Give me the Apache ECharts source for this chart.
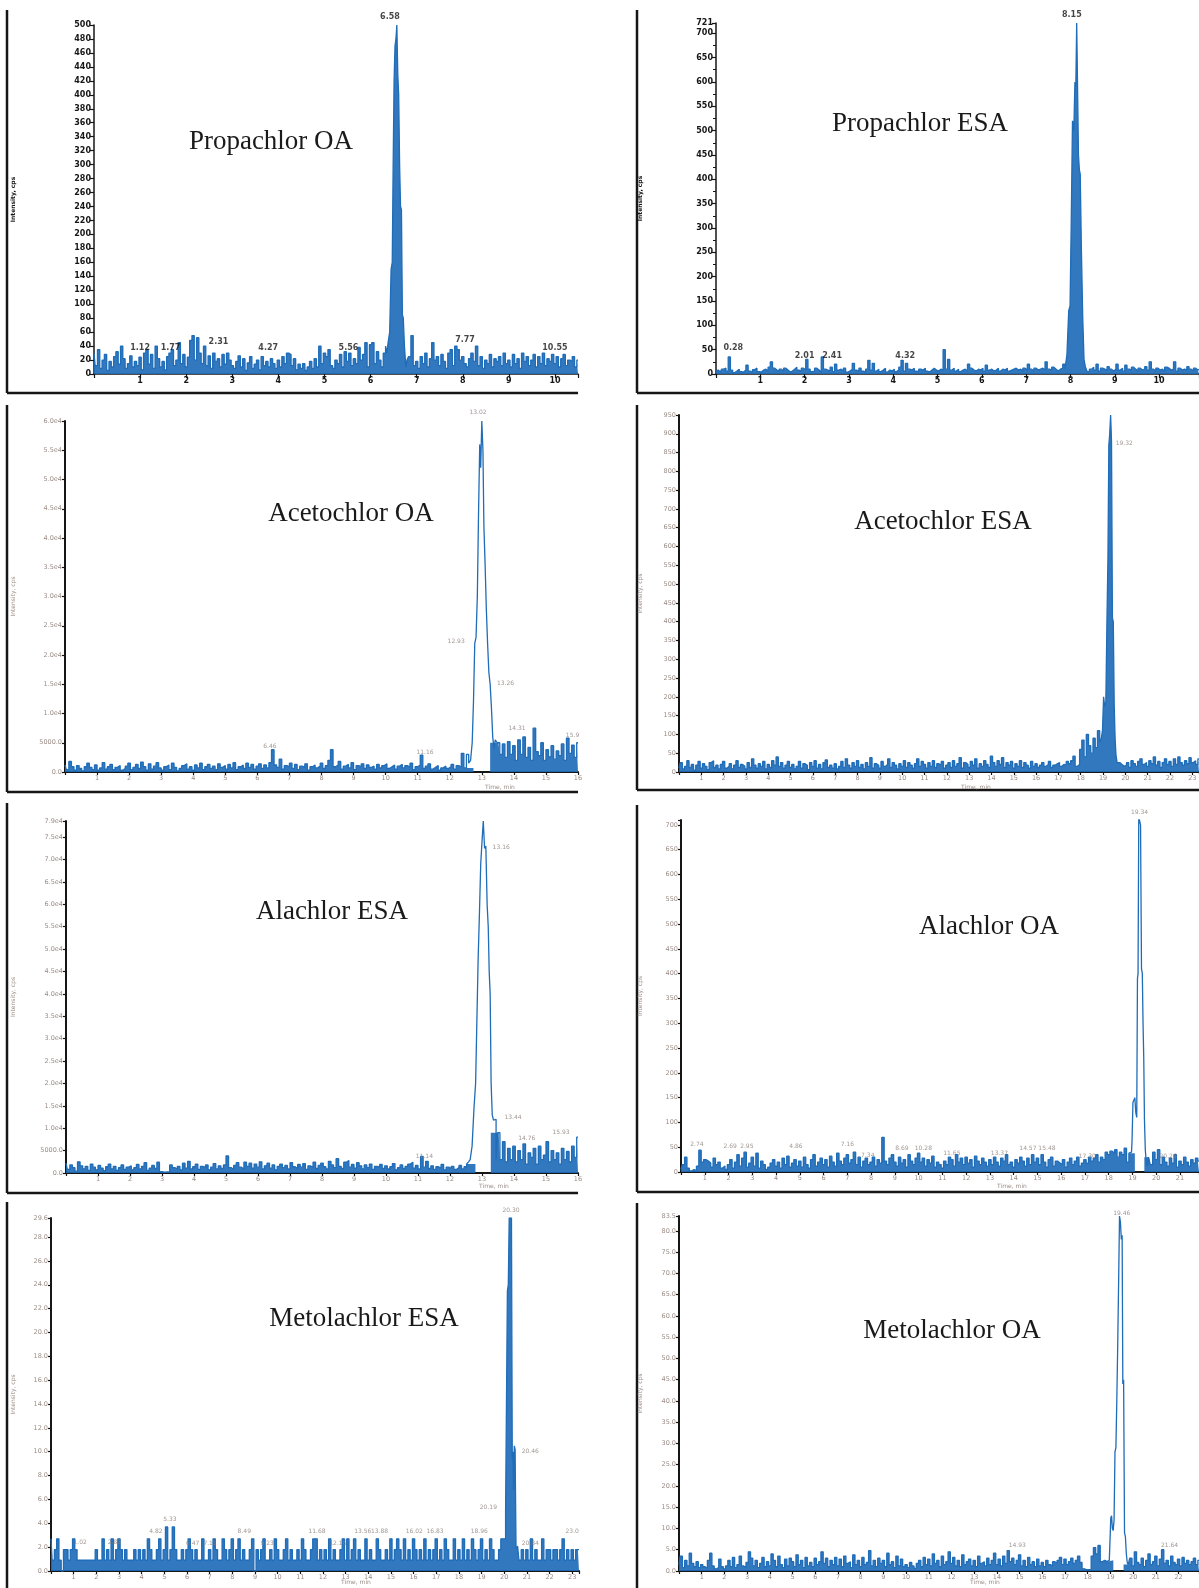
<!DOCTYPE html>
<html lang="en">
<head>
<meta charset="utf-8">
<title>Chromatograms</title>
<script src="https://cdn.jsdelivr.net/npm/echarts@6.0.0/dist/echarts.min.js"></script>
<style>
  html, body { margin: 0; padding: 0; background: #fff; }
  #chart { width: 1199px; height: 1588px; }
</style>
</head>
<body>
<div id="chart"></div>
<script>

// Propachlor OA : bruit échantillonné toutes les 0.05 min
const propOANoise = [
  30,12,35,8,20,28,5,18,10,25,32,14,40,22,8,15,26,10,18,12,
  24,6,30,35,14,28,8,40,22,10,18,6,25,30,35,12,20,45,15,28,
  10,24,48,55,20,52,30,15,40,12,26,8,30,18,22,10,28,14,30,20,
  12,8,18,26,10,22,5,16,25,8,14,20,6,25,12,18,10,22,15,8,
  20,10,25,15,30,28,12,22,6,14,8,15,5,10,18,8,22,10,40,15,
  30,25,35,12,8,20,15,28,10,32,18,30,12,22,15,38,20,28,45,10,
  42,45,15,32,20,10,30,40,45,60,150,470,500,300,85,40,10,25,55,12,
  18,8,25,15,30,10,22,45,20,25,12,28,18,8,30,35,12,40,35,20,
  25,15,10,22,30,18,40,12,25,8,20,15,28,10,22,18,25,12,30,15,
  20,10,28,15,22,8,30,18,25,12,20,28,10,25,15,30,12,22,18,28,
  15,25,10,22,28,12,20,18,25,10,20
];
const propOAPeak = [
  [6.36,30],[6.40,45],[6.43,60],[6.46,150],[6.48,160],[6.50,300],[6.52,420],
  [6.54,470],[6.56,480],[6.58,500],[6.60,430],[6.62,400],[6.64,300],[6.66,240],
  [6.68,235],[6.70,85],[6.72,80],[6.75,40],[6.78,10],[6.80,20]
];
const propOANotes = [
  [1.0,37,'1.12'],[1.66,37,'1.77'],[2.7,46,'2.31'],[3.78,37,'4.27'],
  [5.52,37,'5.56'],[8.05,49,'7.77'],[10.0,37,'10.55'],[6.42,511,'6.58']
];
const propOAYLabels = ['0','20','40','60','80','100','120','140','160','180','200','220','240',
  '260','280','300','320','340','360','380','400','420','440','460','480','500'];

// Propachlor ESA : pas de 0.05 min
const propESANoise = [
  5,8,4,10,12,6,35,8,3,6,10,5,4,8,18,6,3,9,12,5,
  4,8,10,6,14,25,12,8,5,10,6,12,8,4,6,10,14,8,5,12,
  8,30,10,5,6,12,8,4,35,10,8,6,14,5,20,8,10,6,12,4,
  6,10,22,8,5,12,6,4,10,28,8,22,6,10,5,8,12,4,8,6,
  10,5,8,14,28,6,22,10,8,12,6,5,10,8,12,6,4,8,12,8,
  6,10,8,50,10,30,8,12,6,10,5,8,10,6,20,12,8,6,10,8,
  12,6,18,8,10,6,8,12,6,10,8,12,6,8,10,12,8,10,6,12,
  8,20,10,6,12,8,10,12,8,25,10,8,14,10,6,10,12,20,40,130,
  140,520,600,721,450,410,120,15,5,10,14,8,20,6,12,10,8,15,10,6,
  10,20,8,12,6,18,10,8,14,10,6,12,8,10,15,8,25,10,6,12,
  8,10,6,14,12,8,10,25,6,12,8,10,8,15,10,6,12,8,10
];
const propESAPeak = [
  [7.90,10],[7.94,40],[7.98,130],[8.00,140],[8.03,300],[8.06,520],[8.09,500],
  [8.11,600],[8.13,590],[8.15,721],[8.17,720],[8.19,450],[8.21,420],[8.23,410],
  [8.26,260],[8.29,120],[8.32,30],[8.35,15]
];
const propESANotes = [[0.39,54,'0.28'],[2.0,37,'2.01'],[2.62,37,'2.41'],[4.27,37,'4.32'],[8.03,737,'8.15']];
const propESAYLabels = ['0','50','100','150','200','250','300','350','400','450','500','550','600','650','700','721'];

// Acetochlor OA : pas de 0.08 min
const acetOANoise = [
  1200,400,1800,900,300,1100,600,200,900,1500,800,400,1200,300,700,1600,500,900,1300,400,800,1100,300,600,1000,
  1500,400,800,1300,600,1700,900,300,1400,500,1000,1600,700,300,900,1200,400,1500,800,200,600,1100,1400,500,900,
  300,1200,700,1500,400,900,1300,600,1000,400,1400,800,1100,500,1300,700,1600,400,900,1200,600,1500,800,1300,500,
  1000,1400,600,1200,700,1600,3800,1200,800,2200,500,1100,900,1500,600,1300,400,1000,800,1400,300,900,1200,700,1000,
  1500,600,1100,2000,3800,900,1200,1800,500,1000,1300,700,1600,400,1100,900,1400,600,1200,800,1000,500,1300,700,1100,
  1400,600,900,1200,500,1000,1300,700,1100,800,1500,400,900,1200,2900,600,1000,1400,500,800,1100,300,700,1000,600,
  900,1300,500,1100,800,3200,700,3000,2000,8000,20000,26000,55000,60000,35000,20000,9000,14500,6000,5000,3000,4800,2500,5200,3000,
  4500,2000,5500,3000,6000,2500,4200,2000,7500,3500,2800,5000,2000,3800,2600,4500,2200,3600,2800,4800,2000,5800,3200,4600,2500,
  5000
];
const acetOAPeak = [
  [12.56,3000],[12.62,1500],[12.68,2000],[12.72,5000],[12.76,12000],[12.80,22000],[12.84,23000],
  [12.88,30000],[12.92,45000],[12.95,56000],[12.98,52000],[13.02,60000],[13.05,55000],[13.08,42000],
  [13.12,36000],[13.16,28000],[13.20,22000],[13.24,17000],[13.28,15000],[13.32,11000],[13.36,6000],
  [13.40,4000],[13.44,5500]
];
const acetOANotes = [
  [12.88,61500,'13.02'],[12.2,22400,'12.93'],[13.74,15200,'13.26'],[14.1,7500,'14.31'],
  [15.83,6300,'15.9'],[6.39,4400,'6.46'],[11.23,3400,'11.16']
];
const acetOAYLabels = ['0.0','5000.0','1.0e4','1.5e4','2.0e4','2.5e4','3.0e4','3.5e4','4.0e4','4.5e4','5.0e4','5.5e4','6.0e4'];

// Acetochlor ESA : pas de 0.1 min
const acetESANoise = [
  10,25,8,15,30,12,20,5,18,28, 10,22,15,6,25,30,12,18,8,20,
  28,10,15,22,8,18,30,12,20,15, 8,25,12,35,18,10,22,15,28,8,
  20,12,30,18,40,15,25,10,18,28, 12,20,8,15,28,10,22,18,6,25,
  15,30,10,20,8,25,32,12,18,10, 22,8,15,28,12,35,18,10,25,15,
  30,12,20,8,25,15,38,10,22,18, 10,28,15,20,35,12,25,18,8,22,
  15,30,12,25,18,10,22,35,15,28, 20,10,25,15,30,12,22,18,28,10,
  18,25,12,30,15,22,38,10,25,20, 12,28,18,35,10,22,15,30,20,12,
  42,25,15,30,20,38,12,25,18,28, 10,22,15,30,12,25,18,10,28,15,
  22,12,18,25,15,20,28,12,18,22, 25,15,20,18,28,22,30,42,15,20,
  60,85,40,100,70,50,90,65,110,80, 110,200,400,870,950,410,90,25,20,15,
  18,25,12,30,22,15,28,35,20,25, 15,30,22,40,18,28,12,25,35,20,
  28,15,35,20,40,25,18,30,22,38, 25,30,20,35
];
const acetESAPeak = [
  [18.95,90],[19.00,110],[19.05,200],[19.10,175],[19.15,185],[19.20,400],[19.24,570],
  [19.28,870],[19.32,900],[19.36,950],[19.40,880],[19.44,410],[19.48,400],[19.52,180],
  [19.56,90],[19.60,45],[19.66,25]
];
const acetESANotes = [[19.95,875,'19.32']];
const acetESAYLabels = ['0','50','100','150','200','250','300','350','400','450','500','550','600',
  '650','700','750','800','850','900','950'];

// Alachlor ESA : pas de 0.08 min
const alaESANoise = [
  2200,800,1800,1200,400,2500,1600,900,1500,600,2000,1300,700,1700,1100,500,1400,2000,900,1500,600,1200,1800,800,1300,
  1600,700,1200,1900,900,1500,2300,600,1100,1700,1000,2400,300,200,250,300,1800,1200,900,1500,700,2200,1100,2600,900,
  1400,2000,800,1500,1200,1800,700,1300,2100,900,1600,1000,1800,3800,1200,800,1700,2300,1300,900,2400,1500,2200,1100,2000,
  1300,2500,900,1600,2200,1100,1800,700,1500,2000,1200,1700,900,2300,1400,1000,1900,1300,2100,800,1600,1200,2400,1000,1700,
  2200,1400,900,2600,1800,1200,3200,1500,1000,2400,2800,1300,1900,1100,2300,1600,900,1800,1200,2000,800,1500,1300,1900,1000,
  1600,900,1400,2100,700,1200,1800,1000,1500,2000,2400,1100,1700,900,3700,1300,2600,1000,1600,800,1400,1100,1900,700,1300,
  1000,1500,800,1200,1700,900,1400,2000,3000,15000,34000,68000,78000,60000,40000,20000,11000,12000,4000,9000,3000,7000,2500,5500,3000,
  6000,2500,5000,3000,6500,2000,4500,3500,5500,2000,6000,3000,4000,7000,2500,5000,3000,4500,2000,5500,3000,4800,2500,6000,3500,
  8000
];
const alaESAPeak = [
  [12.60,2500],[12.66,3000],[12.72,6000],[12.78,14500],[12.82,20000],[12.86,34000],[12.90,48000],
  [12.94,58000],[12.98,69000],[13.02,74000],[13.06,78600],[13.10,72500],[13.14,73000],[13.18,60000],
  [13.21,55000],[13.24,45000],[13.27,40000],[13.30,20000],[13.34,13000],[13.38,11800],[13.42,12000],
  [13.46,3000]
];
const alaESANotes = [[13.6,72800,'13.16'],[13.97,12500,'13.44'],[14.4,7800,'14.76'],[15.47,9000,'15.93'],[11.2,3600,'11.14']];
const alaESAYLabels = ['0.0','5000.0','1.0e4','1.5e4','2.0e4','2.5e4','3.0e4','3.5e4','4.0e4','4.5e4','5.0e4',
  '5.5e4','6.0e4','6.5e4','7.0e4','7.5e4','7.9e4'];

// Alachlor OA : pas de 0.1 min
const alaOANoise = [
  5,15,30,8,2,5,3,12,44,20, 25,22,18,10,28,15,20,8,12,5,
  15,25,8,20,35,12,28,40,10,18, 30,12,38,8,22,15,5,10,18,25,
  12,20,8,28,15,32,10,18,25,12, 22,10,30,15,8,25,35,12,20,28,
  15,25,10,32,20,12,38,22,15,28, 35,18,25,40,15,30,10,22,28,15,
  20,30,12,25,18,70,22,15,28,35, 20,12,30,18,25,10,35,22,15,28,
  38,20,28,12,25,18,32,10,20,15, 8,22,15,30,25,12,35,20,28,15,
  30,18,25,10,32,22,15,28,20,12, 25,15,30,20,12,28,22,35,15,20,
  10,25,18,30,22,12,28,15,35,20, 28,15,35,20,10,25,30,12,22,18,
  15,25,10,20,28,15,22,30,12,18, 25,18,30,22,28,35,20,30,25,40,
  35,42,38,45,30,40,35,48,20,38, 60,140,150,390,716,410,105,30,15,40,
  25,45,15,30,20,12,28,18,35,10, 22,15,30,20,12,25,18,28,22
];
const alaOAPeak = [
  [18.96,40],[19.00,60],[19.04,140],[19.08,145],[19.12,150],[19.16,120],[19.20,110],
  [19.22,390],[19.25,400],[19.28,716],[19.32,716],[19.36,700],[19.40,410],[19.43,400],
  [19.46,300],[19.49,230],[19.52,105],[19.56,45],[19.60,20],[19.64,12]
];
const alaOANotes = [
  [19.3,725,'19.34'],[0.67,56,'2.74'],[2.07,52,'2.69'],[2.77,52,'2.95'],[4.84,52,'4.86'],
  [7.0,56,'7.16'],[7.86,34,'7.34'],[9.3,47,'8.69'],[10.2,47,'10.28'],[11.4,37,'11.65'],
  [13.4,37,'13.37'],[14.6,47,'14.57'],[15.4,47,'15.48'],[17.1,32,'17.30'],[20.5,32,'20.26']
];
const alaOAYLabels = ['0','50','100','150','200','250','300','350','400','450','500','550','600','650','700'];

// Metolachlor ESA : pas de 0.1 min
const metESANoise = [
  2.7,0.9,1.8,2.7,0.9,0,1.8,1.8,0.9,1.8, 2.7,1.8,0.9,0.9,0.9,0.9,0.9,0.9,0.9,0.9,
  1.8,0.9,0.9,2.7,0.9,1.8,0.9,2.7,0.9,1.8, 2.7,1.8,0.9,1.8,0.9,0.9,0.9,1.8,0.9,1.8,
  0.9,1.8,0.9,2.7,1.8,0.9,0.9,1.8,2.7,0.9, 1.8,3.7,0.9,1.8,3.7,1.8,0.9,0.9,1.8,0.9,
  1.8,2.7,1.8,0.9,1.8,0.9,0.9,2.7,0.9,0.9, 1.8,0.9,2.7,1.8,0.9,0.9,2.7,1.8,0.9,1.8,
  2.7,0.9,1.8,2.7,0.9,1.8,0.9,0.9,1.8,2.7, 0,1.8,0.9,1.8,2.7,0.9,0.9,1.8,0.9,2.7,
  1.8,0.9,0.9,1.8,2.7,0.9,1.8,0.9,0.9,1.8, 0.9,2.7,1.8,0.9,0.9,1.8,2.7,2.7,0.9,1.8,
  0.9,1.8,0.9,2.7,0.9,1.8,0.9,0.9,1.8,2.7, 0.9,2.7,0.9,1.8,2.7,0.9,1.8,0.9,0.9,2.7,
  0.9,1.8,0.9,0.9,2.7,1.8,0.9,0.9,1.8,0.9, 2.7,0.9,1.8,2.7,1.8,0.9,2.7,0.9,1.8,0.9,
  2.7,1.8,0.9,1.8,0.9,2.7,0.9,1.8,0.9,1.8, 2.7,0.9,1.8,0.9,2.7,1.8,0.9,0.9,2.7,0.9,
  1.8,0.9,2.7,0.9,1.8,0.9,2.7,1.8,0.9,1.8, 2.7,0.9,1.8,0.9,2.7,1.8,0.9,0.9,1.8,2.7,
  2.8,5.3,23.5,29.6,10,9,2.1,0.9,1.8,0.9, 1.8,0.9,2.7,0.9,1.8,0.9,0.9,2.7,0.9,1.8,
  1.8,0.9,1.8,1.8,0.9,1.8,2.7,0.9,1.8,0.9, 1.8,0.9,1.8,1.8
];
const metESAPeak = [
  [20.04,2.7],[20.08,5.0],[20.12,5.0],[20.16,23.5],[20.20,24],[20.24,29.6],[20.30,29.6],
  [20.34,29.6],[20.37,9.5],[20.40,10],[20.43,6.8],[20.46,10.5],[20.50,10.2],[20.54,2.0],[20.58,1.8]
];
const metESANotes = [
  [1.29,2.4,'1.02'],[2.8,2.4,'2.83'],[4.63,3.3,'4.82'],[5.25,4.3,'5.33'],[6.25,2.3,'6.47'],
  [7.02,2.3,'7.11'],[8.53,3.3,'8.49'],[9.54,2.3,'9.23'],[11.74,3.3,'11.68'],[12.66,2.3,'12.16'],
  [13.76,3.3,'13.56'],[14.5,3.3,'13.88'],[16.03,3.3,'16.02'],[16.95,3.3,'16.83'],[18.9,3.3,'18.96'],
  [19.3,5.3,'20.19'],[20.3,30.2,'20.30'],[21.15,10.0,'20.46'],[21.15,2.3,'20.84'],[23.0,3.3,'23.0']
];
const metESAYLabels = ['0.0','2.0','4.0','6.0','8.0','10.0','12.0','14.0','16.0','18.0','20.0',
  '22.0','24.0','26.0','28.0','29.6'];

// Metolachlor OA : pas de 0.1 min
const metOANoise = [
  1.5,3.5,0.8,2.5,1.2,4.2,1.8,1.0,2.2,0.8, 1.5,1.0,0.6,2.5,4.2,1.2,0.5,0.8,2.8,1.0,
  0.5,1.2,2.5,1.0,3.2,0.8,1.5,3.5,1.2,0.8, 2.0,4.5,3.0,1.2,2.5,0.8,1.8,3.2,1.0,2.2,
  1.2,4.0,2.5,1.0,3.5,1.5,0.8,2.8,1.2,3.0, 2.2,1.0,3.8,1.5,2.5,0.8,3.2,1.2,2.0,1.0,
  3.0,1.5,2.2,4.5,1.8,3.0,1.0,2.5,1.5,3.2, 1.2,2.8,1.0,3.5,1.8,2.2,0.8,3.8,1.5,2.5,
  1.0,3.2,1.5,2.0,4.8,1.2,2.5,1.0,3.0,1.8, 2.5,1.0,4.2,1.5,2.2,0.8,3.5,1.2,2.8,1.0,
  1.5,0.8,2.0,1.2,0.6,1.8,2.5,1.0,3.2,1.5, 2.8,1.2,4.0,1.8,2.5,1.0,3.5,1.5,2.2,4.5,
  1.8,3.2,1.2,2.5,1.0,3.8,1.5,2.2,2.8,1.2, 2.5,1.0,3.5,1.8,2.2,1.2,3.0,1.5,2.5,4.2,
  1.5,2.8,1.2,3.5,1.8,4.8,2.2,3.0,1.5,2.5, 3.8,1.2,2.5,1.0,3.2,1.5,2.2,1.0,2.8,1.2,
  2.0,1.0,2.5,1.5,1.2,2.2,1.8,2.5,3.2,1.5, 2.8,1.5,2.2,3.0,1.8,2.5,3.5,2.0,0.5,0.3,
  0.3,0.4,3.5,5.5,4.0,6.0,2.2,2.5,2.2,2.5, 2.8,10,12,28,53,83.5,79,44,1.5,3.0,
  1.2,4.5,2.0,1.5,3.0,1.0,2.5,4.0,1.5,2.2, 3.5,1.2,2.8,5.0,1.8,2.5,1.2,3.5,2.0,1.5,
  2.8,1.2,3.2,1.8,2.5,1.5,2.2,3.0,1.5,2.5
];
const metOAPeak = [
  [18.95,2.5],[19.00,2.8],[19.03,12.5],[19.07,13],[19.10,10],[19.14,9.5],[19.18,12],
  [19.22,28],[19.26,29],[19.30,40],[19.34,53],[19.38,68],[19.42,83.5],[19.46,82],
  [19.50,78],[19.53,79],[19.56,44],[19.60,45],[19.64,9],[19.68,8],[19.72,4],[19.76,2]
];
const metOANotes = [[19.5,84,'19.46'],[14.9,6,'14.93'],[21.6,6,'21.64']];
const metOAYLabels = ['0.0','5.0','10.0','15.0','20.0','25.0','30.0','35.0','40.0','45.0','50.0',
  '55.0','60.0','65.0','70.0','75.0','80.0','83.5'];

// --- Mise en page des huit panneaux (pixels) ---

const BLUE = '#1f6cb8';
const DARK = '#161616';
const GREY = '#9a8c86';

const panels = [
  { title: 'Propachlor OA', noise: propOANoise, dt: 0.05, peak: propOAPeak, notes: propOANotes,
    yLabels: propOAYLabels, yStep: 20, yMax: 500, xMax: 10.5, bold: true, fillPeak: true,
    grid: [94, 25, 484, 349], titlePos: [271, 143], frame: [7, 10, 393, 578], nameGap: 78 },
  { title: 'Propachlor ESA', noise: propESANoise, dt: 0.05, peak: propESAPeak, notes: propESANotes,
    yLabels: propESAYLabels, yStep: 50, yMax: 721, xMax: 10.9, bold: true, minor: true, fillPeak: true,
    grid: [716, 23, 483, 351], titlePos: [920, 125], frame: [637, 10, 393, 1199], nameGap: 73 },
  { title: 'Acetochlor OA', noise: acetOANoise, dt: 0.08, peak: acetOAPeak, notes: acetOANotes,
    yLabels: acetOAYLabels, yStep: 5000, yMax: 60000, xMax: 16,
    grid: [65, 421, 513, 351], titlePos: [351, 515], frame: [7, 405, 792, 578], nameGap: 49,
    timePos: [500, 788] },
  { title: 'Acetochlor ESA', noise: acetESANoise, dt: 0.1, peak: acetESAPeak, notes: acetESANotes,
    yLabels: acetESAYLabels, yStep: 50, yMax: 950, xMax: 23.3, fillPeak: true,
    grid: [679, 415, 520, 357], titlePos: [943, 523], frame: [637, 405, 790, 1199], nameGap: 36,
    timePos: [976, 788] },
  { title: 'Alachlor ESA', noise: alaESANoise, dt: 0.08, peak: alaESAPeak, notes: alaESANotes,
    yLabels: alaESAYLabels, yStep: 5000, yMax: 78600, xMax: 16,
    grid: [66, 821, 512, 352], titlePos: [332, 913], frame: [7, 803, 1193, 578], nameGap: 50,
    timePos: [494, 1187] },
  { title: 'Alachlor OA', noise: alaOANoise, dt: 0.1, peak: alaOAPeak, notes: alaOANotes,
    yLabels: alaOAYLabels, yStep: 50, yMax: 710, xMax: 21.8,
    grid: [681, 820, 518, 352], titlePos: [989, 928], frame: [637, 805, 1192, 1199], nameGap: 38,
    timePos: [1012, 1187] },
  { title: 'Metolachlor ESA', noise: metESANoise, dt: 0.1, peak: metESAPeak, notes: metESANotes,
    yLabels: metESAYLabels, yStep: 2, yMax: 29.6, xMax: 23.3, fillPeak: true,
    grid: [51, 1218, 528, 353], titlePos: [364, 1320], frame: [7, 1202, null, null], nameGap: 35,
    timePos: [356, 1583] },
  { title: 'Metolachlor OA', noise: metOANoise, dt: 0.1, peak: metOAPeak, notes: metOANotes,
    yLabels: metOAYLabels, yStep: 5, yMax: 83.5, xMax: 22.9,
    grid: [679, 1216, 520, 355], titlePos: [952, 1332], frame: [637, 1203, null, null], nameGap: 36,
    timePos: [985, 1583] }
];

/**
 * Assemble le tracé : le bruit régulier hors de la fenêtre du pic, puis les points du pic
 * @param {number[]} noise - Intensités à pas constant
 * @param {number} dt - Pas de temps (min)
 * @param {number[][]} peak - Couples [temps, intensité] du pic
 * @param {boolean} withPeak - Sinon, un trou remplace le pic
 */
function trace(noise, dt, peak, withPeak = true) {
  const t0 = peak[0][0];
  const t1 = peak[peak.length - 1][0];
  const pts = [];
  noise.forEach((v, i) => {
    const t = Math.round(i * dt * 1000) / 1000;
    if (t < t0 || t > t1) pts.push([t, v]);
  });
  if (withPeak) peak.forEach((p) => pts.push(p));
  else pts.push([(t0 + t1) / 2, null]);
  pts.sort((a, b) => a[0] - b[0]);
  return pts;
}

// Étiquettes de l'axe Y lues dans les tableaux ci-dessus
function yFormatter(labels, step, max) {
  return function (v) {
    const i = Math.round(v / step);
    if (Math.abs(v - i * step) < step * 1e-6) return labels[i] !== undefined ? labels[i] : '';
    if (Math.abs(v - max) < 1e-9) return labels[Math.floor(max / step + 1e-9) + 1] || '';
    return '';
  };
}

function xFormatter(v) {
  return Math.abs(v - Math.round(v)) < 1e-6 && v > 0 ? String(Math.round(v)) : '';
}

const grids = [];
const xAxes = [];
const yAxes = [];
const series = [];
const titles = [];
const graphics = [];

panels.forEach((p, i) => {
  const txtColor = p.bold ? DARK : GREY;
  const labelFont = p.bold
    ? { fontFamily: 'DejaVu Sans', fontSize: 8, fontWeight: 'bold', color: DARK }
    : { fontFamily: 'DejaVu Sans', fontSize: 6.5, color: GREY };
  const axisW = p.bold ? 1.5 : 2;

  grids.push({
    left: p.grid[0], top: p.grid[1], width: p.grid[2], height: p.grid[3],
    containLabel: false, outerBoundsMode: 'none'
  });

  xAxes.push({
    type: 'value', gridIndex: i, min: 0, max: p.xMax, interval: 1,
    axisLine: { lineStyle: { color: DARK, width: axisW } },
    axisTick: { length: p.bold ? 4 : 3, lineStyle: { color: DARK, width: 1.2 } },
    axisLabel: Object.assign({ margin: 3, formatter: xFormatter }, labelFont),
    splitLine: { show: false }
  });

  yAxes.push({
    type: 'value', gridIndex: i, min: 0, max: p.yMax, interval: p.yStep,
    name: 'Intensity, cps', nameLocation: 'middle', nameGap: p.nameGap, nameRotate: 90,
    nameTextStyle: { fontFamily: 'DejaVu Sans', fontSize: 6, color: txtColor, fontWeight: p.bold ? 'bold' : 'normal' },
    axisLine: { show: true, lineStyle: { color: DARK, width: axisW } },
    axisTick: { show: true, length: p.bold ? 4 : 3, lineStyle: { color: DARK, width: 1.2 } },
    minorTick: { show: !!p.minor, splitNumber: 2, length: 3, lineStyle: { color: DARK } },
    axisLabel: Object.assign({ margin: 3, formatter: yFormatter(p.yLabels, p.yStep, p.yMax) }, labelFont),
    splitLine: { show: false }
  });

  // Bruit de fond rempli (masse bleue dense comme sur l'original)
  series.push({
    type: 'line', xAxisIndex: i, yAxisIndex: i, data: trace(p.noise, p.dt, p.peak, !!p.fillPeak),
    symbol: 'none', step: 'middle', silent: true, z: 1, connectNulls: false,
    lineStyle: { width: 0 },
    itemStyle: { color: BLUE },
    areaStyle: { color: BLUE, opacity: 0.92 }
  });

  // Tracé complet
  series.push({
    type: 'line', xAxisIndex: i, yAxisIndex: i, data: trace(p.noise, p.dt, p.peak),
    symbol: 'none', step: 'middle', silent: true, z: 2,
    lineStyle: { color: BLUE, width: 1.3 },
    itemStyle: { color: BLUE }
  });

  series.push({
    type: 'scatter', xAxisIndex: i, yAxisIndex: i, clip: false, silent: true, z: 5,
    symbolSize: 1, itemStyle: { color: 'rgba(0,0,0,0)' },
    data: p.notes.map((n) => ({ name: n[2], value: [n[0], n[1]] })),
    label: {
      show: true, position: 'inside', formatter: '{b}',
      fontFamily: 'DejaVu Sans', fontSize: p.bold ? 8 : 6,
      fontWeight: p.bold ? 'bold' : 'normal', color: p.bold ? DARK : '#8a7d78'
    }
  });

  titles.push({
    text: p.title, left: p.titlePos[0], top: p.titlePos[1] - 15, textAlign: 'center', padding: 0,
    textStyle: { fontFamily: 'Liberation Serif', fontSize: 27, fontWeight: 'normal', color: '#1a1a1a' }
  });
  if (p.timePos) {
    titles.push({
      text: 'Time, min', left: p.timePos[0], top: p.timePos[1] - 4, textAlign: 'center', padding: 0,
      textStyle: { fontFamily: 'DejaVu Sans', fontSize: 6, fontWeight: 'normal', color: GREY }
    });
  }

  // Cadre en L autour de chaque panneau
  const f = p.frame;
  graphics.push({
    type: 'line', silent: true,
    shape: { x1: f[0], y1: f[1], x2: f[0], y2: f[2] === null ? 1588 : f[2] },
    style: { stroke: DARK, lineWidth: 2.5 }
  });
  if (f[2] !== null) {
    graphics.push({
      type: 'line', silent: true,
      shape: { x1: f[0], y1: f[2], x2: f[3], y2: f[2] },
      style: { stroke: DARK, lineWidth: 2.5 }
    });
  }
});

const myChart = echarts.init(document.getElementById('chart'), null, { renderer: 'canvas' });
myChart.setOption({
  animation: false,
  backgroundColor: '#fff',
  title: titles,
  grid: grids,
  xAxis: xAxes,
  yAxis: yAxes,
  series: series,
  graphic: graphics
});
</script>
</body>
</html>
